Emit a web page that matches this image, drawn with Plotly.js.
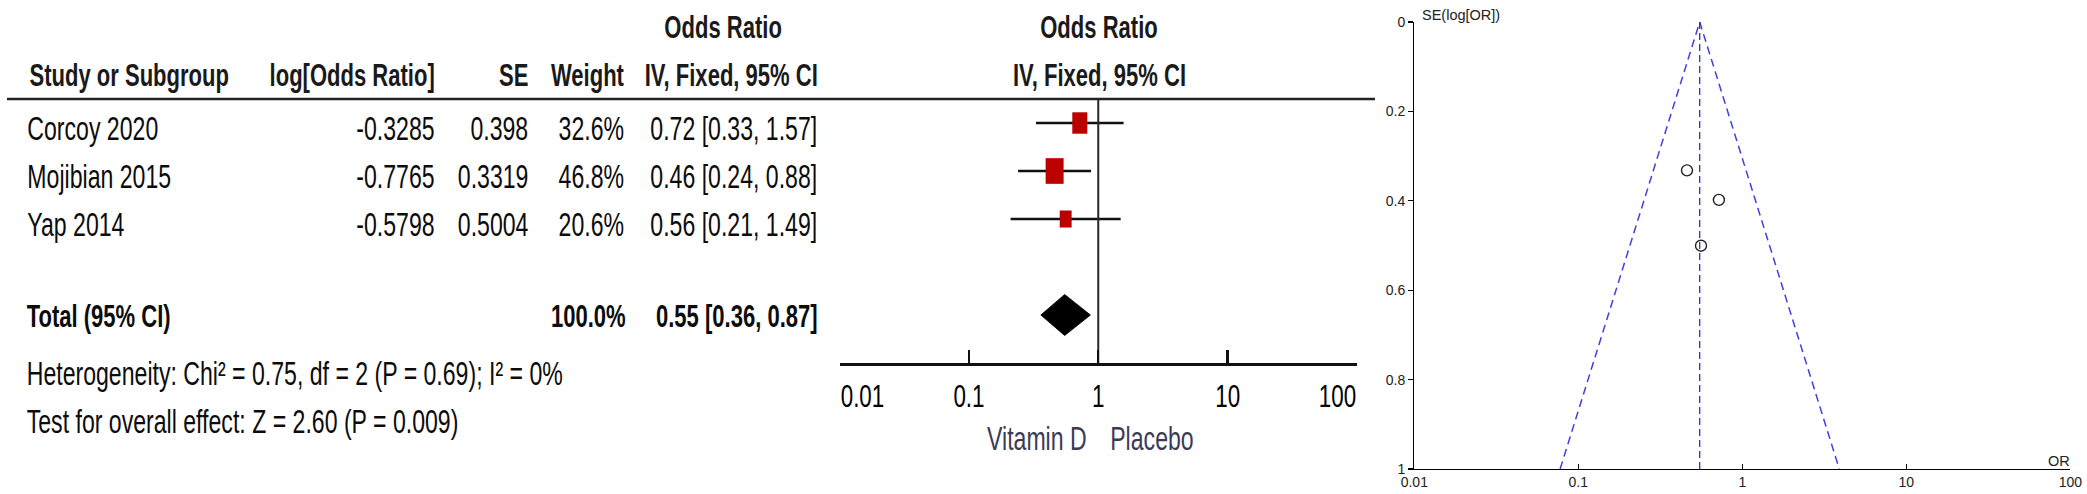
<!DOCTYPE html>
<html>
<head>
<meta charset="utf-8">
<script src="https://cdn.plot.ly/plotly-3.0.1.min.js"></script>
<style>
  html, body { margin: 0; padding: 0; background: #ffffff; overflow: hidden; width: 2087px; height: 494px; }
  #wrap { position: relative; width: 2087px; height: 494px; overflow: hidden; }
  /* the forest panel of the source is horizontally condensed; reproduce by a horizontal scale */
  #forest { position: absolute; left: 0; top: 0; width: 1972px; height: 494px;
            transform: scaleX(0.7); transform-origin: 0 0; }
  #funnel { position: absolute; left: 1380px; top: 0; width: 707px; height: 494px; }
</style>
</head>
<body>
<div id="wrap">
  <div id="forest"></div>
  <div id="funnel"></div>
</div>
<script>
// ---------------- DATA ----------------
const studies   = ['Corcoy 2020', 'Mojibian 2015', 'Yap 2014'];
const logOR     = [-0.3285, -0.7765, -0.5798];
const seLogOR   = [0.398, 0.3319, 0.5004];
const weights   = [32.6, 46.8, 20.6];
const orEst     = [0.72, 0.46, 0.56];
const ciLow     = [0.33, 0.24, 0.21];
const ciHigh    = [1.57, 0.88, 1.49];

const totalLabel  = 'Total (95% CI)';
const totalWeight = 100.0;
const totalOR     = 0.55;
const totalLow    = 0.36;
const totalHigh   = 0.87;

const hetChi2 = 0.75, hetDf = 2, hetP = 0.69, hetI2 = 0;
const zValue = 2.60, zP = 0.009;

const forestTicks   = [0.01, 0.1, 1, 10, 100];
const forestTickTxt = ['0.01', '0.1', '1', '10', '100'];
const funnelXTicks  = [0.01, 0.1, 1, 10, 100];
const funnelXTxt    = ['0.01', '0.1', '1', '10', '100'];
const funnelYTicks  = [0, 0.2, 0.4, 0.6, 0.8, 1];
const funnelYTxt    = ['0', '0.2', '0.4', '0.6', '0.8', '1'];

const favoursLeft  = 'Vitamin D';
const favoursRight = 'Placebo';

// ---------------- HELPERS ----------------
const H = 494;
const FW = 1972;              // internal width of forest panel
const FS = 0.7;               // horizontal scale of forest panel
const FA = FW * FS;           // on-screen width of forest panel
const px = x => x / FA;       // on-screen x (px) -> forest paper fraction
const py = y => 1 - y / H;    // on-screen y (px) -> paper fraction
const GX0 = 1380, GW = 707;   // funnel panel
const gx = x => (x - GX0) / GW;

const SANS = '"Liberation Sans", Arial, "Helvetica", sans-serif';
const TXT = '#0c0c0c';
const HDR = '#1a1a1a';

const rows = studies.map((_, i) => i + 1);
const totalRow = 5;
// on-screen pixel(row) = 123 + (row-1)*48
const rowPx = 48, row1Px = 123;
const rowTop = 1 - row1Px / rowPx;
const rowBottom = 1 + (H - row1Px) / rowPx;
const pxToRow = y => 1 + (y - row1Px) / rowPx;

const ann = [];
function addText(text, x, xanchor, yval, yref, opts) {
  opts = opts || {};
  ann.push(Object.assign({
    text: text, xref: 'paper', x: x, xanchor: xanchor,
    yref: yref, y: yval, yanchor: 'middle',
    showarrow: false,
    font: { family: SANS, size: opts.size || 33, color: opts.color || TXT }
  }, opts.extra || {}));
}
const BS = 31.5; // bold size

// header
addText('<b>Odds Ratio</b>', px(723), 'center', py(27), 'paper', { size: BS, color: HDR });
addText('<b>Odds Ratio</b>', px(1099), 'center', py(27), 'paper', { size: BS, color: HDR });
addText('<b>Study or Subgroup</b>', px(28), 'left', py(75), 'paper', { size: BS, color: HDR });
addText('<b>log[Odds Ratio]</b>', px(436), 'right', py(75), 'paper', { size: BS, color: HDR });
addText('<b>SE</b>', px(530), 'right', py(75), 'paper', { size: BS, color: HDR });
addText('<b>Weight</b>', px(626), 'right', py(75), 'paper', { size: BS, color: HDR });
addText('<b>IV, Fixed, 95% CI</b>', px(819), 'right', py(75), 'paper', { size: BS, color: HDR });
addText('<b>IV, Fixed, 95% CI</b>', px(1099), 'center', py(75), 'paper', { size: BS, color: HDR });

// study rows
studies.forEach((s, i) => {
  const ys = { yshift: -5 };
  addText(s, px(26), 'left', rows[i], 'y', { extra: ys });
  addText(String(logOR[i]), px(436), 'right', rows[i], 'y', { extra: ys });
  addText(String(seLogOR[i]), px(530), 'right', rows[i], 'y', { extra: ys });
  addText(weights[i].toFixed(1) + '%', px(626), 'right', rows[i], 'y', { extra: ys });
  addText(orEst[i].toFixed(2) + ' [' + ciLow[i].toFixed(2) + ', ' + ciHigh[i].toFixed(2) + ']',
          px(819), 'right', rows[i], 'y', { extra: ys });
});

// total row
addText('<b>' + totalLabel + '</b>', px(25), 'left', totalRow, 'y', { size: BS, extra: { yshift: -1 } });
addText('<b>' + totalWeight.toFixed(1) + '%</b>', px(627), 'right', totalRow, 'y', { size: BS, extra: { yshift: -1 } });
addText('<b>' + totalOR.toFixed(2) + ' [' + totalLow.toFixed(2) + ', ' + totalHigh.toFixed(2) + ']</b>',
        px(819), 'right', totalRow, 'y', { size: BS, extra: { yshift: -1 } });

// statistics
addText('Heterogeneity: Chi\u00b2 = ' + hetChi2.toFixed(2) + ', df = ' + hetDf + ' (P = ' + hetP.toFixed(2) +
        '); I\u00b2 = ' + hetI2 + '%', px(25), 'left', py(373), 'paper');
addText('Test for overall effect: Z = ' + zValue.toFixed(2) + ' (P = ' + zP + ')',
        px(25), 'left', py(421), 'paper');

// forest tick labels (first left-aligned, last right-aligned)
forestTicks.forEach((v, i) => {
  ann.push({
    text: forestTickTxt[i], xref: 'x', x: Math.log10(v),
    xanchor: i === 0 ? 'left' : (i === forestTicks.length - 1 ? 'right' : 'center'),
    yref: 'paper', y: py(396), yanchor: 'middle', showarrow: false,
    font: { family: SANS, size: 32, color: '#000' }
  });
});
addText(favoursLeft, px(1088), 'right', py(438), 'paper', { color: '#3b3b55' });
addText(favoursRight, px(1109), 'left', py(438), 'paper', { color: '#3b3b55' });

// ---------------- FOREST TRACES ----------------
const fTraces = [];
const ciX = [], ciY = [];
studies.forEach((_, i) => { ciX.push(ciLow[i], ciHigh[i], null); ciY.push(rows[i], rows[i], null); });
fTraces.push({ type: 'scatter', mode: 'lines', x: ciX, y: ciY,
               line: { color: '#111', width: 2.6 }, hoverinfo: 'skip' });

// line of no effect (OR = 1), from header rule down to axis
fTraces.push({ type: 'scatter', mode: 'lines', x: [1, 1], y: [pxToRow(99), pxToRow(365)],
               line: { color: '#2a2a2a', width: 2.9 }, hoverinfo: 'skip' });

// weighted study squares
fTraces.push({ type: 'scatter', mode: 'markers', x: logOR.map(v => Math.exp(v)), y: rows,
               opacity: 1,
               marker: { symbol: 'square', color: '#bb0000', opacity: 1,
                         size: weights.map(w => 3.75 * Math.sqrt(w)),
                         line: { width: 0 } }, hoverinfo: 'skip' });

// total diamond
const dh = 20.5 / rowPx;
fTraces.push({ type: 'scatter', mode: 'lines', fill: 'toself', fillcolor: '#000',
               x: [totalLow, totalOR, totalHigh, totalOR, totalLow],
               y: [totalRow, totalRow - dh, totalRow, totalRow + dh, totalRow],
               line: { color: '#000', width: 1 }, hoverinfo: 'skip' });

const fShapes = [{
  type: 'line', xref: 'paper', yref: 'paper', x0: px(7), x1: px(1375), y0: py(99), y1: py(99),
  line: { color: '#222', width: 2.6 }
}];

const fLayout = {
  width: FW, height: H, autosize: false,
  margin: { l: 0, r: 0, t: 0, b: 0, pad: 0 },
  paper_bgcolor: 'rgba(0,0,0,0)', plot_bgcolor: 'rgba(0,0,0,0)',
  showlegend: false, hovermode: false,
  xaxis: {
    type: 'log', range: [-2, 2], domain: [px(839.5), px(1357)],
    anchor: 'free', position: py(364),
    showline: true, linecolor: '#111', linewidth: 2.6,
    ticks: 'inside', ticklen: 13, tickwidth: 3.4, tickcolor: '#111',
    tickvals: forestTicks, showticklabels: false,
    showgrid: false, zeroline: false, fixedrange: true
  },
  yaxis: {
    range: [rowBottom, rowTop], domain: [0, 1], visible: false,
    showgrid: false, zeroline: false, fixedrange: true
  },
  annotations: ann,
  shapes: fShapes
};

// ---------------- FUNNEL ----------------
const pooled = Math.log(totalOR);
const seMax = 1;
const gTraces = [
  { type: 'scatter', mode: 'lines',
    x: [Math.exp(pooled - 1.96 * seMax), Math.exp(pooled), Math.exp(pooled + 1.96 * seMax)],
    y: [seMax, 0, seMax],
    line: { color: '#4040e0', width: 1.5, dash: '8px,5px' }, hoverinfo: 'skip' },
  { type: 'scatter', mode: 'lines',
    x: [Math.exp(pooled), Math.exp(pooled)], y: [0, seMax],
    line: { color: '#2020b0', width: 1.2, dash: '7px,4px' }, hoverinfo: 'skip' },
  { type: 'scatter', mode: 'markers',
    x: logOR.map(v => Math.exp(v)), y: seLogOR,
    marker: { symbol: 'circle-open', size: 11, color: '#222', line: { width: 1.4, color: '#222' } },
    hoverinfo: 'skip' }
];

const gLayout = {
  width: GW, height: H, autosize: false,
  margin: { l: 0, r: 0, t: 0, b: 0, pad: 0 },
  paper_bgcolor: 'rgba(0,0,0,0)', plot_bgcolor: 'rgba(0,0,0,0)',
  showlegend: false, hovermode: false,
  xaxis: {
    type: 'log', range: [-2, 2], domain: [gx(1414.3), gx(2070.3)], anchor: 'y',
    showline: true, linecolor: '#000', linewidth: 1.3,
    ticks: 'inside', ticklen: 5, tickwidth: 1.3, tickcolor: '#000',
    tickvals: funnelXTicks, ticktext: funnelXTxt,
    tickfont: { family: SANS, size: 14, color: '#222' },
    showgrid: false, zeroline: false, fixedrange: true
  },
  yaxis: {
    range: [1, 0], domain: [py(469), py(22)], anchor: 'x',
    showline: true, linecolor: '#000', linewidth: 1.3,
    ticks: 'outside', ticklen: 5, tickwidth: 1.3, tickcolor: '#000',
    tickvals: funnelYTicks, ticktext: funnelYTxt,
    tickfont: { family: SANS, size: 14, color: '#222' },
    showgrid: false, zeroline: false, fixedrange: true
  },
  yaxis2: {
    range: [1, 0], overlaying: 'y', anchor: 'x', side: 'left',
    showline: false, ticks: 'inside', ticklen: 5, tickwidth: 1.3, tickcolor: '#000',
    tickvals: funnelYTicks, showticklabels: false,
    showgrid: false, zeroline: false, fixedrange: true
  },
  annotations: [
    { text: 'SE(log[OR])', xref: 'paper', x: gx(1420), xanchor: 'left', yref: 'paper', y: py(15),
      yanchor: 'middle', showarrow: false, font: { family: SANS, size: 14.5, color: '#222' } },
    { text: 'OR', xref: 'paper', x: gx(2072), xanchor: 'right', yref: 'paper', y: py(461),
      yanchor: 'middle', showarrow: false, font: { family: SANS, size: 14.5, color: '#222' } }
  ]
};

Plotly.newPlot('forest', fTraces, fLayout, { staticPlot: true, displayModeBar: false });
Plotly.newPlot('funnel', gTraces, gLayout, { staticPlot: true, displayModeBar: false });
</script>
</body>
</html>
